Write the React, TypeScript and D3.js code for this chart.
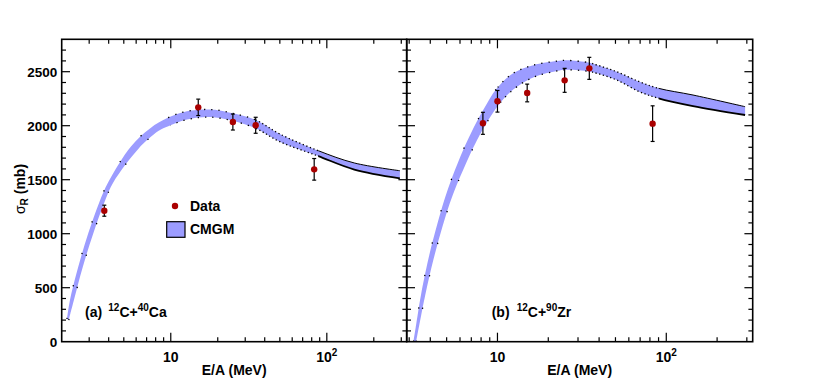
import * as d3 from "d3";

// measured cross sections (mb) with errors
const caEnergy = [3.75, 15, 25, 35, 83];
const caSigma = [1213, 2170, 2034, 2004, 1596];
const caError = [51, 76, 74, 74, 100];

const zrEnergy = [8.2, 10, 15, 25, 35, 83];
const zrSigma = [2022, 2226, 2303, 2420, 2531, 2019];
const zrError = [102, 100, 82, 111, 102, 165];

// CMGM band edges, 12C+40Ca
const caUpperE = [2.16, 2.26, 2.554, 2.96, 3.48, 3.98, 5.56, 7.36, 9.64, 12, 15, 17.5, 20, 25, 35, 50, 88, 150, 294];
const caUpperS = [210, 386, 694, 1004, 1290, 1479, 1808, 1975, 2075, 2125, 2147, 2150, 2144, 2115, 2053, 1923, 1769, 1655, 1583];
const caLowerE = [2.22, 2.4, 2.73, 3.19, 3.79, 4.28, 6.19, 8.32, 9.64, 12, 15, 17.5, 20, 25, 35, 50, 88, 150, 294];
const caLowerS = [200, 390, 692, 1005, 1305, 1475, 1785, 1950, 1995, 2048, 2075, 2080, 2073, 2046, 1976, 1852, 1719, 1594, 1513];

// CMGM band edges, 12C+90Zr
const zrUpperE = [3.18, 3.38, 3.53, 3.9, 4.44, 5.09, 6.21, 7.0, 8.2, 9.9, 12.4, 16.3, 22.5, 25.7, 35, 38.8, 50.9, 69.3, 90, 144, 293];
const zrUpperS = [0, 264, 440, 768, 1110, 1413, 1761, 1937, 2140, 2345, 2486, 2560, 2598, 2605, 2583, 2562, 2500, 2407, 2346, 2284, 2176];
const zrLowerE = [3.3, 3.73, 4.18, 4.73, 5.43, 6.74, 7.56, 8.2, 9.5, 10.85, 12.4, 14.25, 17.1, 22.5, 25.7, 35, 38.8, 50.9, 69.3, 90, 144, 293];
const zrLowerS = [0, 427, 763, 1069, 1355, 1703, 1865, 1968, 2130, 2248, 2335, 2401, 2461, 2507, 2518, 2502, 2485, 2423, 2315, 2254, 2182, 2099];

const legendLabels = ["Data", "CMGM"];
const yTickLabels = ["0", "500", "1000", "1500", "2000", "2500"];

const FONT = "'Liberation Sans', Arial, Helvetica, sans-serif";
const BAND = "#9c9cff";
const RED = "#aa0000";

const yScale = d3.scaleLinear().domain([0, 2800]).range([341.7, 39.3]);

type Pt = [number, number];

function Panel(props: any) {
  const { id, x0, x1, eMin, eMax, dataE, dataS, dataErr, upE, upS, loE, loS, kink, showY } = props;
  const xs = d3.scaleLog().domain([eMin, eMax]).range([x0, x1]);
  const y0 = yScale(0), y1 = yScale(2800);

  const line = d3.line<Pt>().x(d => xs(d[0])).y(d => yScale(d[1])).curve(d3.curveCatmullRom.alpha(0.5));
  const upper: Pt[] = upE.map((e: number, i: number) => [e, upS[i]]);
  const lower: Pt[] = loE.map((e: number, i: number) => [e, loS[i]]);
  const band = line(upper) + (line(lower.slice().reverse()) || "").replace(/^M/, "L") + "Z";

  // edge line style changes along the energy axis (dots get denser, then solid)
  const segs = [
    { lo: eMin, hi: 10, dash: "1.3 32", wu: 1.3, wl: 1.3 },
    { lo: 10, hi: 35, dash: "1.3 6", wu: 1.3, wl: 1.3 },
    { lo: 35, hi: kink, dash: "1.3 2.5", wu: 1.3, wl: 1.3 },
    { lo: kink, hi: eMax, dash: undefined, wu: 1, wl: 1.8 },
  ];

  const xt = xs.ticks();
  const yt = d3.range(0, 2801, 100);

  return (
    <g>
      <defs>
        {segs.map((s, i) => (
          <clipPath id={`${id}-seg${i}`} key={i}>
            <rect x={xs(s.lo)} y={y1} width={xs(s.hi) - xs(s.lo)} height={y0 - y1} />
          </clipPath>
        ))}
      </defs>
      <path d={band} fill={BAND} stroke="none" />
      {segs.map((s, i) => (
        <g key={i} clipPath={`url(#${id}-seg${i})`} fill="none" stroke="#000">
          <path d={line(upper) || ""} strokeWidth={s.wu} strokeDasharray={s.dash} />
          <path d={line(lower) || ""} strokeWidth={s.wl} strokeDasharray={s.dash} />
        </g>
      ))}

      {/* data with error bars */}
      {dataE.map((e: number, i: number) => {
        const cx = xs(e);
        const top = yScale(dataS[i] + dataErr[i]);
        const bot = yScale(dataS[i] - dataErr[i]);
        return (
          <g key={i} stroke="#000" strokeWidth={1.2}>
            <line x1={cx} x2={cx} y1={top} y2={bot} />
            <line x1={cx - 2} x2={cx + 2} y1={top} y2={top} />
            <line x1={cx - 2} x2={cx + 2} y1={bot} y2={bot} />
            <circle cx={cx} cy={yScale(dataS[i])} r={3.2} fill={RED} stroke="none" />
          </g>
        );
      })}

      {/* frame */}
      <rect x={x0} y={y1} width={x1 - x0} height={y0 - y1} fill="none" stroke="#000" strokeWidth={1.6} />

      {/* x ticks, bottom and top */}
      <g stroke="#000" strokeWidth={1.2}>
        {xt.map((t, i) => {
          const major = Math.abs(Math.log10(t) - Math.round(Math.log10(t))) < 1e-9;
          const len = major ? 9 : 4.5;
          const x = xs(t);
          if (x <= x0 + 0.5 || x >= x1 - 0.5) return null;
          return (
            <g key={i}>
              <line x1={x} x2={x} y1={y0} y2={y0 - len} />
              <line x1={x} x2={x} y1={y1} y2={y1 + len} />
            </g>
          );
        })}
        {yt.map((t, i) => {
          const len = t % 500 === 0 ? 8.3 : 4.3;
          const y = yScale(t);
          if (t === 0 || t === 2800) return null;
          return (
            <g key={i}>
              <line x1={x0} x2={x0 + len} y1={y} y2={y} />
              <line x1={x1} x2={x1 - len} y1={y} y2={y} />
            </g>
          );
        })}
      </g>

      {/* x tick labels */}
      <g fontFamily={FONT} fontWeight="bold" fontSize={14} textAnchor="middle">
        <text x={xs(10)} y={361.7}>10</text>
        <text x={xs(100)} y={361.7}>
          10<tspan fontSize={10} dy={-6}>2</tspan>
        </text>
        <text x={(x0 + x1) / 2} y={375}>E/A (MeV)</text>
      </g>

      {showY && (
        <g fontFamily={FONT} fontWeight="bold" fontSize={13.5} textAnchor="end">
          {yTickLabels.map((l, i) => (
            <text key={i} x={x0 - 4.5} y={yScale(+l) + 4.8}>{l}</text>
          ))}
        </g>
      )}
    </g>
  );
}

export default function App() {
  return (
    <svg width={814} height={389} style={{ position: "absolute", left: 0, top: 0, background: "#fff" }}>
      <Panel id="ca" x0={61.7} x1={406.7} eMin={2} eMax={325}
        dataE={caEnergy} dataS={caSigma} dataErr={caError}
        upE={caUpperE} upS={caUpperS} loE={caLowerE} loS={caLowerS} kink={88} showY />
      <Panel id="zr" x0={406.7} x1={752.7} eMin={2.9} eMax={325}
        dataE={zrEnergy} dataS={zrSigma} dataErr={zrError}
        upE={zrUpperE} upS={zrUpperS} loE={zrLowerE} loS={zrLowerS} kink={90} showY={false} />

      {/* y title */}
      <text transform="translate(25,189) rotate(-90)" textAnchor="middle" fontFamily={FONT} fontWeight="bold" fontSize={14}>
        <tspan fontWeight="normal">σ</tspan>
        <tspan fontSize={10} dy={3}>R</tspan>
        <tspan dy={-3}> (mb)</tspan>
      </text>

      {/* legend */}
      <g fontFamily={FONT} fontWeight="bold" fontSize={14}>
        <circle cx={175} cy={206} r={3.2} fill={RED} />
        <text x={190} y={211}>{legendLabels[0]}</text>
        <rect x={166.7} y={221.7} width={18.3} height={15.6} fill={BAND} stroke="#000" strokeWidth={1.2} />
        <text x={190} y={234.3}>{legendLabels[1]}</text>
      </g>

      {/* reaction labels */}
      <g fontFamily={FONT} fontWeight="bold" fontSize={14}>
        <text x={85} y={316.7}>
          (a)<tspan x={108.3} dy={-6} fontSize={10}>12</tspan><tspan dy={6}>C+</tspan>
          <tspan dy={-6} fontSize={10}>40</tspan><tspan dy={6}>Ca</tspan>
        </text>
        <text x={491.7} y={316.7}>
          (b)<tspan x={516.7} dy={-6} fontSize={10}>12</tspan><tspan dy={6}>C+</tspan>
          <tspan dy={-6} fontSize={10}>90</tspan><tspan dy={6}>Zr</tspan>
        </text>
      </g>
    </svg>
  );
}
